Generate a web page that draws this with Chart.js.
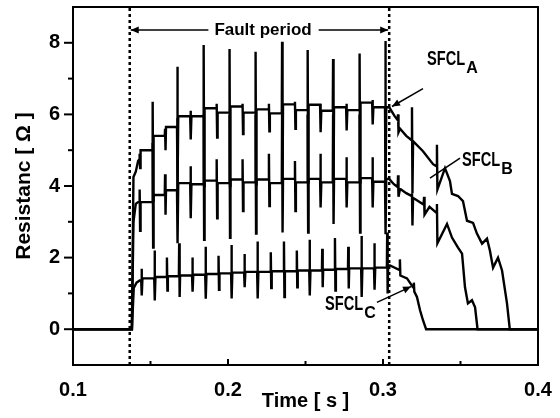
<!DOCTYPE html>
<html><head><meta charset="utf-8">
<script src="https://cdn.jsdelivr.net/npm/chart.js@4/dist/chart.umd.min.js"></script>
<style>html,body{margin:0;padding:0;background:#fff}#wrap{width:560px;height:418px;position:relative}</style>
</head><body><div id="wrap"><canvas id="c"></canvas></div>
<script>
// ---- tick labels / axis ranges ----
const xTicks = [0.1, 0.2, 0.3, 0.4];
const yTicks = [0, 2, 4, 6, 8];
const faultStart = 0.1366, faultEnd = 0.3040;

// ---- current-zero glitch times during the fault (s) ----
const spikeT = [0.1428,0.1512,0.1592,0.1671,0.1756,0.1841,0.1925,0.2008,0.2092,0.2176,
                0.2262,0.2347,0.2430,0.2512,0.2594,0.2676,0.2762,0.2847,0.2930,0.3013];
const spikeTC = [0.1440,0.1524,0.1604,0.1683,0.1768,0.1853,0.1937,0.2020,0.2104,0.2188,
                 0.2274,0.2359,0.2442,0.2524,0.2606,0.2688,0.2774,0.2859,0.2942,0.3025];

// ---- SFCL_A ----
const aRiseT = [0.1380, 0.1390, 0.1405, 0.1420];
const aRiseV = [0, 4.25, 4.40, 4.70];
const aBase = [4.75,5.00,5.40,5.65,5.95,5.95,6.17,6.05,6.22,6.05,6.14,6.03,6.28,6.12,6.27,6.10,6.20,6.12,6.33,6.20];
const aHigh = [4.90,6.35,5.60,7.33,6.10,7.94,6.30,7.83,6.30,7.75,6.30,8.03,6.35,7.80,6.30,7.55,6.30,7.70,6.40,8.05];
const aLow  = [4.50,3.60,5.00,3.90,5.30,4.00,5.35,4.00,5.45,4.05,5.53,4.10,5.60,4.10,5.50,4.10,5.55,4.10,5.72,4.00];
const aFallT = [0.3040,0.3075,0.3093,0.3097,0.3100,0.3110,0.3150,0.3185,0.3187,0.3190,0.3194,0.3258,0.3323,0.3345,0.3348,0.3351,
                0.3400,0.3432,0.3445,0.3484,0.3516,0.3542,0.3581,0.3606,0.3639,0.3671,0.3690,0.3710,0.3742,0.3768,0.3800,0.3818];
const aFallV = [6.20,5.95,5.85,6.00,5.50,5.60,5.40,5.28,6.20,3.80,5.25,4.97,4.61,4.55,5.15,3.90,
                4.50,4.14,3.78,3.72,3.58,3.03,2.97,2.67,2.39,2.53,2.19,1.72,2.00,1.64,0.72,0];

// ---- SFCL_B ----
const bRiseT = [0.1380, 0.1390, 0.1405, 0.1420];
const bRiseV = [0, 3.00, 3.50, 3.55];
const bBase = [3.55,3.55,3.75,3.88,4.08,4.05,4.15,4.08,4.18,4.10,4.18,4.08,4.20,4.10,4.20,4.10,4.20,4.10,4.22,4.12];
const bHigh = [3.90,5.20,4.33,5.90,4.55,6.00,4.75,6.00,4.75,6.00,4.90,6.00,4.70,6.00,4.90,6.00,4.80,6.00,4.80,6.00];
const bLow  = [2.75,2.28,3.20,2.40,3.10,2.50,3.10,2.55,3.30,2.67,3.44,2.70,3.30,2.70,3.40,2.94,3.40,2.70,3.40,2.65];
const bFallT = [0.3040,0.3070,0.3095,0.3097,0.3100,0.3110,0.3150,0.3185,0.3187,0.3190,0.3194,0.3262,0.3265,0.3268,0.3300,
                0.3345,0.3348,0.3351,0.3413,0.3445,0.3484,0.3510,0.3529,0.3548,0.3574,0.3594,0.3610];
const bFallV = [4.20,4.05,3.97,4.30,3.70,3.92,3.80,3.72,3.80,2.90,3.67,3.48,3.70,3.20,3.42,
                3.25,3.50,2.40,2.94,2.56,2.28,2.11,1.17,0.72,0.81,0.61,0];

// ---- SFCL_C ----
const cRiseT = [0.1380, 0.1392, 0.1410, 0.1430];
const cRiseV = [0, 1.15, 1.30, 1.36];
const cBase = [1.36,1.42,1.46,1.48,1.50,1.52,1.54,1.56,1.58,1.60,1.60,1.62,1.62,1.64,1.64,1.66,1.68,1.70,1.70,1.72];
const cHigh = [1.69,2.20,2.00,2.40,2.00,2.30,2.05,2.35,2.10,2.45,2.15,2.45,2.20,2.50,2.25,2.55,2.30,2.60,2.40,2.70];
const cLow  = [0.94,0.80,1.08,0.90,1.05,0.85,1.10,0.86,1.17,0.86,1.15,0.90,1.17,0.94,1.17,1.08,1.14,0.90,1.10,1.00];
const cFallT = [0.3045,0.3107,0.3109,0.3112,0.3155,0.3194,0.3199,0.3202,0.3219,0.3239,0.3258,0.3278];
const cFallV = [1.78,1.65,1.95,1.50,1.42,1.17,1.30,1.05,0.90,0.53,0.25,0];

function build(riseT, riseV, sT, base, hi, lo, fallT, fallV) {
  const pts = [{x: xTicks[0], y: 0}];
  riseT.forEach((t, i) => pts.push({x: t, y: riseV[i]}));
  sT.forEach((t, i) => {
    pts.push({x: t, y: base[i]});
    pts.push({x: t + 0.0002, y: hi[i]});
    pts.push({x: t + 0.0005, y: lo[i]});
    const next = i + 1 < base.length ? base[i + 1] : fallV[0];
    pts.push({x: t + 0.0008, y: next});
  });
  fallT.forEach((t, i) => pts.push({x: t, y: fallV[i]}));
  pts.push({x: xTicks[xTicks.length - 1], y: 0});
  return pts;
}

const FONT = '"Liberation Sans", Arial, sans-serif';
Chart.defaults.font.family = FONT;
Chart.defaults.color = '#000';

function curve(data) {
  return {data, showLine: true, borderColor: '#000', borderWidth: 2.4, pointRadius: 0, tension: 0, fill: false};
}
function vline(t) {
  return {data: [{x: t, y: -1}, {x: t, y: 9}], showLine: true, borderColor: '#000', borderWidth: 2.5,
          borderDash: [3, 3], pointRadius: 0, fill: false};
}

function arrow(ctx, x1, y1, x2, y2, head) {
  ctx.beginPath(); ctx.moveTo(x1, y1); ctx.lineTo(x2, y2); ctx.stroke();
  if (!head) return;
  const ang = Math.atan2(y2 - y1, x2 - x1), L = 8, W = 3.5;
  ctx.beginPath();
  ctx.moveTo(x2, y2);
  ctx.lineTo(x2 - L * Math.cos(ang) + W * Math.sin(ang), y2 - L * Math.sin(ang) - W * Math.cos(ang));
  ctx.lineTo(x2 - L * Math.cos(ang) - W * Math.sin(ang), y2 - L * Math.sin(ang) + W * Math.cos(ang));
  ctx.closePath(); ctx.fill();
}

function sfcl(ctx, px, py, sub) {
  ctx.save();
  ctx.textBaseline = 'alphabetic'; ctx.textAlign = 'left';
  ctx.font = 'bold 20px ' + FONT;
  ctx.translate(px, py); ctx.scale(0.73, 1);
  ctx.fillText('SFCL', 0, 0);
  const w = ctx.measureText('SFCL').width * 0.73;
  ctx.restore();
  ctx.save();
  ctx.font = 'bold 16px ' + FONT; ctx.textBaseline = 'alphabetic'; ctx.textAlign = 'left';
  ctx.fillText(sub, px + w + 1, py + 8);
  ctx.restore();
}

const deco = {
  id: 'deco',
  afterDatasetsDraw(chart) {
    const {ctx, chartArea: a, scales: {x, y}} = chart;
    ctx.save();
    ctx.strokeStyle = '#000'; ctx.fillStyle = '#000'; ctx.lineWidth = 2;
    ctx.strokeRect(a.left, a.top, a.right - a.left, a.bottom - a.top);
    // y ticks (major outward, minor outward shorter)
    for (let v = yTicks[0]; v <= yTicks[yTicks.length - 1]; v++) {
      const py = y.getPixelForValue(v), len = yTicks.includes(v) ? 9 : 5;
      ctx.beginPath(); ctx.moveTo(a.left - len, py); ctx.lineTo(a.left, py); ctx.stroke();
    }
    // x ticks inward
    for (let i = 0; i < xTicks.length - 1; i++) {
      [xTicks[i] + 0.05, xTicks[i + 1]].forEach((v, k) => {
        if (v >= xTicks[xTicks.length - 1]) return;
        const px = x.getPixelForValue(v);
        ctx.beginPath(); ctx.moveTo(px, a.bottom); ctx.lineTo(px, a.bottom - (k ? 6 : 4)); ctx.stroke();
      });
    }
    // Fault period annotation
    ctx.lineWidth = 1.5;
    const fy = y.getPixelForValue(8.36);
    const x0 = x.getPixelForValue(faultStart), x1 = x.getPixelForValue(faultEnd);
    const tc = x.getPixelForValue(0.2226);
    ctx.font = 'bold 17px ' + FONT; ctx.textAlign = 'center'; ctx.textBaseline = 'middle';
    ctx.fillText('Fault period', tc, fy);
    const tw = ctx.measureText('Fault period').width;
    arrow(ctx, tc - tw / 2 - 6, fy, x0 + 1, fy, true);
    arrow(ctx, tc + tw / 2 + 7, fy, x1 - 1, fy, true);
    // curve labels
    sfcl(ctx, x.getPixelForValue(0.3284), y.getPixelForValue(7.39), 'A');
    arrow(ctx, x.getPixelForValue(0.3258), y.getPixelForValue(6.72), x.getPixelForValue(0.3058), y.getPixelForValue(6.22), true);
    sfcl(ctx, x.getPixelForValue(0.3510), y.getPixelForValue(4.56), 'B');
    arrow(ctx, x.getPixelForValue(0.3497), y.getPixelForValue(4.78), x.getPixelForValue(0.3303), y.getPixelForValue(4.22), false);
    sfcl(ctx, x.getPixelForValue(0.2626), y.getPixelForValue(0.53), 'C');
    arrow(ctx, x.getPixelForValue(0.2961), y.getPixelForValue(0.75), x.getPixelForValue(0.3181), y.getPixelForValue(1.19), true);
    ctx.restore();
  }
};

new Chart(document.getElementById('c'), {
  type: 'scatter',
  data: {
    datasets: [
      curve(build(aRiseT, aRiseV, spikeT, aBase, aHigh, aLow, aFallT, aFallV)),
      curve(build(bRiseT, bRiseV, spikeT, bBase, bHigh, bLow, bFallT, bFallV)),
      curve(build(cRiseT, cRiseV, spikeTC, cBase, cHigh, cLow, cFallT, cFallV)),
      vline(faultStart),
      vline(faultEnd)
    ]
  },
  options: {
    responsive: true, maintainAspectRatio: false, animation: false, devicePixelRatio: 1, events: [],
    layout: {padding: {left: 0, right: 22, top: 7, bottom: 0}},
    plugins: {legend: {display: false}, tooltip: {enabled: false}},
    scales: {
      x: {
        type: 'linear', min: xTicks[0], max: xTicks[xTicks.length - 1],
        afterBuildTicks: s => { s.ticks = xTicks.map(v => ({value: v})); },
        afterFit: s => { s.height = 53; s.paddingLeft = 0; s.paddingRight = 0; },
        grid: {display: false, drawTicks: false}, border: {display: false},
        ticks: {font: {size: 20, weight: 'bold'}, padding: 13, maxRotation: 0, callback: v => Number(v).toFixed(1)},
        title: {display: true, text: 'Time [ s ]', font: {size: 20, weight: 'bold'}, padding: {top: 0, bottom: 5}}
      },
      y: {
        min: -1, max: 9,
        afterBuildTicks: s => { s.ticks = yTicks.map(v => ({value: v})); },
        afterFit: s => { s.width = 73; s.paddingTop = 0; s.paddingBottom = 0; },
        grid: {display: false, drawTicks: false}, border: {display: false},
        ticks: {font: {size: 20, weight: 'bold'}, padding: 13, callback: v => String(v)},
        title: {display: true, text: 'Resistanc [ Ω ]', font: {size: 21, weight: 'bold'}, padding: {top: 12, bottom: 0}}
      }
    }
  },
  plugins: [deco]
});
</script>
</body></html>
